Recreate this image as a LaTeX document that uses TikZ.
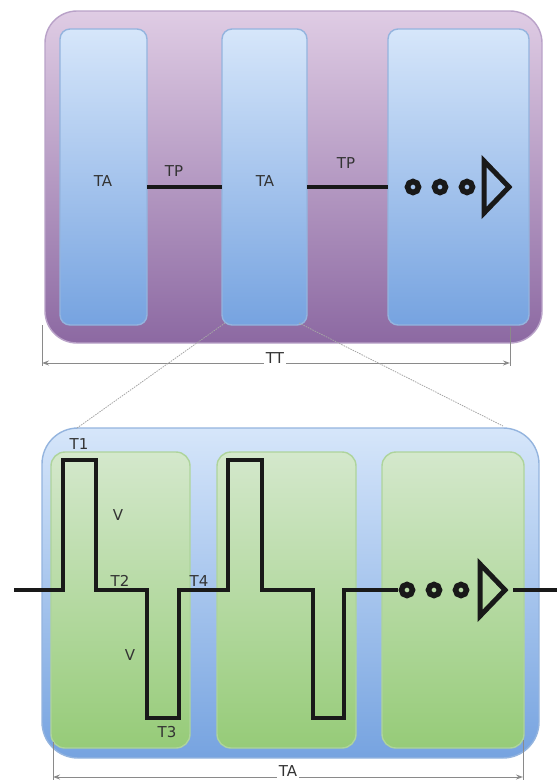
\documentclass[tikz,border=0pt]{standalone}
\usepackage{fontspec}
\setmainfont{DejaVu Sans}
\usetikzlibrary{arrows.meta}
\definecolor{purpTop}{HTML}{DFCCE4}
\definecolor{purpBot}{HTML}{8C69A2}
\definecolor{purpEdge}{HTML}{B9A2C8}
\definecolor{blueTop}{HTML}{D6E6FA}
\definecolor{blueBot}{HTML}{76A3E0}
\definecolor{blueEdge}{HTML}{94B4DE}
\definecolor{greenTop}{HTML}{D4E8CC}
\definecolor{greenBot}{HTML}{96CB78}
\definecolor{greenEdge}{HTML}{AED49C}
\definecolor{dimgray}{HTML}{8A8A8A}
\tikzset{
  box/.style={draw, line width=1.4pt, inner sep=0pt, outer sep=0pt},
  purplebox/.style={box, draw=purpEdge, top color=purpTop, bottom color=purpBot, rounded corners=32pt},
  bluebox/.style={box, draw=blueEdge, top color=blueTop, bottom color=blueBot, rounded corners=10pt},
  bigblue/.style={box, draw=blueEdge, top color=blueTop, bottom color=blueBot, rounded corners=36pt},
  greenbox/.style={box, draw=greenEdge, top color=greenTop, bottom color=greenBot, rounded corners=14pt},
  wire/.style={line width=3.4pt, black!90, line join=miter},
  ring/.style={circle, draw=black!90, line width=5.6pt, minimum size=11pt, inner sep=0pt},
  tri/.style={draw=black!90, line width=5pt, line join=miter},
  lbl/.style={font=\fontsize{15}{17}\selectfont, text=black!80, inner sep=1pt},
  dim/.style={draw=dimgray, line width=1pt, {Stealth[length=7pt,width=5pt,open]}-{Stealth[length=7pt,width=5pt,open]}},
  ext/.style={draw=dimgray, line width=1pt},
  zoomline/.style={draw=gray!70, line width=0.8pt, dash pattern=on 1.5pt off 1pt},
}
\begin{document}
\begin{tikzpicture}[x=1pt,y=-1pt]
\useasboundingbox (0,0) rectangle (557,782);
% ---------------- top part
\node[purplebox, minimum width=497, minimum height=332] (tt) at (293.5,177) {};
\node[bluebox, minimum width=87, minimum height=296] (ta1) at (103.5,177) {};
\node[bluebox, minimum width=85, minimum height=296] (ta2) at (264.5,177) {};
\node[bluebox, minimum width=141, minimum height=296] (ta3) at (458.5,177) {};
\node[lbl] (lta1) at (103,181) {TA};
\node[lbl] (lta2) at (265,181) {TA};
\node[lbl] (ltp1) at (174,171) {TP};
\node[lbl] (ltp2) at (346,163) {TP};
\draw[wire] ([yshift=-10pt]ta1.east) -- ([yshift=-10pt]ta2.west);
\draw[wire] ([yshift=-10pt]ta2.east) -- ([yshift=-10pt]ta3.west);
\node[ring] (c1) at (413,187) {};
\node[ring] (c2) at (440,187) {};
\node[ring] (c3) at (467,187) {};
\coordinate (tA) at (484,161);
\coordinate (tB) at (509,187);
\coordinate (tC) at (484,213);
\draw[tri] (tA) -- (tB) -- (tC) -- cycle;
% TT dimension
\coordinate (ttl) at (42,325);
\coordinate (ttr) at (510,327);
\coordinate (ttla) at (42,363);
\coordinate (ttra) at (510,363);
\draw[ext] (ttl) -- ([yshift=-3pt]ttla);
\draw[ext] (ttr) -- ([yshift=-3pt]ttra);
\draw[dim] (ttla) -- (ttra);
\node[lbl, fill=white, inner sep=1.5pt] (ttlab) at (275,358) {TT};
% ---------------- bottom part
\node[bigblue, minimum width=497, minimum height=330] (outer) at (290.5,593) {};
\node[greenbox, minimum width=139, minimum height=296] (g1) at (120.5,600) {};
\node[greenbox, minimum width=139, minimum height=296] (g2) at (286.5,600) {};
\node[greenbox, minimum width=142, minimum height=296] (g3) at (453,600) {};
% zoom lines
\coordinate (zl) at (77,428);
\coordinate (zr) at (503,426);
\draw[zoomline] ([shift={(3pt,2pt)}]ta2.south west) -- (zl);
\draw[zoomline] ([shift={(-8pt,2pt)}]ta2.south east) -- (zr);
% waveform
\coordinate (w0) at (14,590);
\coordinate (wend) at (398,590);
\draw[wire] (w0) -- (63,590) -- (63,460) -- (96,460) -- (96,590) -- (147,590) -- (147,718)
  -- (179,718) -- (179,590) -- (228,590) -- (228,460) -- (262,460) -- (262,590)
  -- (313,590) -- (313,718) -- (344,718) -- (344,590) -- (wend);
\node[ring] (d1) at (407,590) {};
\node[ring] (d2) at (434,590) {};
\node[ring] (d3) at (461,590) {};
\coordinate (bA) at (480,564);
\coordinate (bB) at (505,590);
\coordinate (bC) at (480,616);
\draw[tri] (bA) -- (bB) -- (bC) -- cycle;
\coordinate (wout) at (557,590);
\draw[wire] (513,590) -- (wout);
% labels
\node[lbl] (lT1) at (79,444) {T1};
\node[lbl] (lV1) at (118,515) {V};
\node[lbl] (lT2) at (120,581) {T2};
\node[lbl] (lT4) at (199,581) {T4};
\node[lbl] (lV2) at (130,655) {V};
\node[lbl] (lT3) at (167,732) {T3};
% TA dimension
\coordinate (tal) at (53,742);
\coordinate (tar) at (523,740);
\coordinate (tala) at (53,777);
\coordinate (tara) at (523,777);
\draw[ext] (tal) -- ([yshift=-3pt]tala);
\draw[ext] (tar) -- ([yshift=-3pt]tara);
\draw[dim] (tala) -- (tara);
\node[lbl, fill=white, inner sep=1.5pt] (talab) at (288,771) {TA};
\end{tikzpicture}
\end{document}
